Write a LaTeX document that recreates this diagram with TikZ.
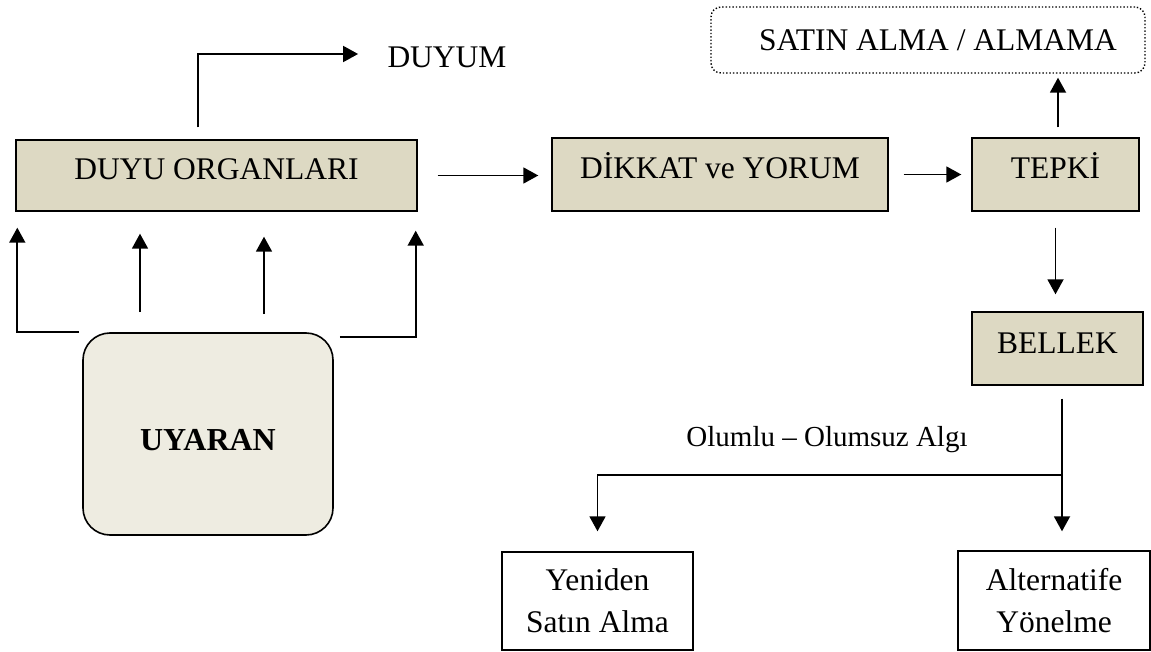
\documentclass[tikz,border=0pt]{standalone}
\usepackage{fontspec}
\setmainfont{Liberation Serif}
\usetikzlibrary{arrows.meta}
\definecolor{boxtan}{HTML}{DDD9C3}
\definecolor{boxpale}{HTML}{EEECE1}

\begin{document}
\begin{tikzpicture}[x=0.5pt, y=-0.5pt,
        font=\fontsize{15.75pt}{21pt}\selectfont,
        arr/.style={-{Triangle[length=7.5pt, width=8pt]}, line width=0.9pt},
        tanbox/.style={draw, line width=0.7pt, fill=boxtan, text height=11pt, text depth=6.5pt, inner sep=0pt},
        whitebox/.style={draw, line width=0.7pt, fill=white, align=center, inner sep=0pt}]
        \useasboundingbox (0, 0) rectangle (1151, 652);

        \node[tanbox, minimum width=200.5pt, minimum height=35.5pt] (duyu) at (216.5, 175.5) {DUYU ORGANLARI};
        \node[tanbox, minimum width=168pt, minimum height=36.5pt] (dikkat) at (720, 174.5) {DİKKAT ve YORUM};
        \node[tanbox, minimum width=83.5pt, minimum height=36.5pt] (tepki) at (1055.5, 174.5) {TEPKİ};
        \node[tanbox, minimum width=85.5pt, minimum height=36.5pt] (bellek) at (1057.5, 348.5) {BELLEK};
        \node[draw, densely dotted, rounded corners=5pt, line width=0.7pt, minimum width=217pt, minimum height=33pt, inner sep=0pt] (satin) at (928, 40) {\hspace*{10pt}SATIN ALMA / ALMAMA};
        \node[draw, line width=0.8pt, fill=boxpale, rounded corners=13.5pt, minimum width=125pt, minimum height=101pt,
            text height=16pt, text depth=0pt, font=\bfseries\fontsize{16pt}{21pt}\selectfont] (uyaran) at (208, 434) {UYARAN};
        \node[inner sep=0pt] (duyum) at (447, 57) {DUYUM};
        \node[whitebox, minimum width=95.5pt, minimum height=49pt] (yeniden) at (597.5, 601) {Yeniden\\Satın Alma};
        \node[whitebox, minimum width=96pt, minimum height=49.5pt] (alternatif) at (1054, 600.5) {Alternatife\\Yönelme};
        \node[font=\fontsize{14.5pt}{17pt}\selectfont] (algi) at (827, 440) {Olumlu – Olumsuz Algı};

        \draw[arr, shorten <=6pt, shorten >=14.5pt] ([xshift=-9.25pt]duyu.north) |- ([yshift=1.5pt]duyum.west);
        \draw[arr, shorten <=10pt, shorten >=6.5pt] (duyu.east) -- (duyu.east -| dikkat.west);
        \draw[arr, shorten <=7.5pt, shorten >=5pt] (dikkat.east) -- (tepki.west);
        \draw[arr, shorten <=5pt, shorten >=2pt] ([xshift=1.25pt]tepki.north) -- ([xshift=1.25pt]tepki.north |- satin.south);
        \draw[arr, shorten <=8pt, shorten >=8.5pt] (tepki.south) -- (tepki.south |- bellek.north);

        \draw[arr, shorten >=8pt] ([xshift=-1.5pt]uyaran.north west) -| ([xshift=1pt]duyu.south west);
        \draw[arr, shorten >=9.5pt] ([xshift=3pt, yshift=-2.5pt]uyaran.north east) -| ([xshift=-1pt]duyu.south east);
        \foreach \x/\s/\e in {140/10pt/11pt, 264/9pt/12.5pt}
            \draw[arr, shorten <=\s, shorten >=\e] (uyaran.north -| \x, 0) -- (duyu.south -| \x, 0);

        \coordinate (split) at (1062, 475);
        \draw[line width=0.9pt, shorten <=6.5pt] (bellek.south -| split) -- (split);
        \draw[arr, shorten >=9.5pt] (split) -- (split |- alternatif.north);
        \draw[arr, shorten >=10pt] (split) -| (yeniden.north);
\end{tikzpicture}
\end{document}
